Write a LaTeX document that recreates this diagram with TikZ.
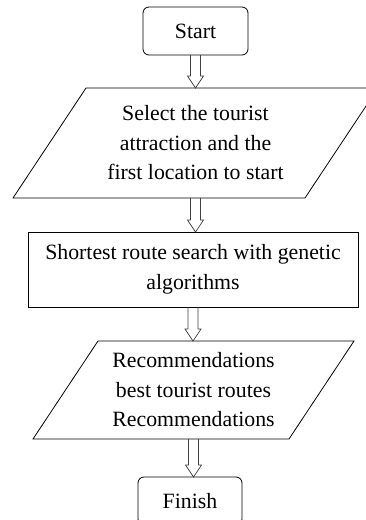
\documentclass[tikz,border=0pt]{standalone}
\usepackage{fontspec}
\setmainfont{Liberation Serif}
\usetikzlibrary{calc}

\begin{document}
\begin{tikzpicture}[x=1pt, y=1pt, line width=0.8pt,
  every node/.style={font=\fontsize{21.8}{29.5}\selectfont, align=center, inner sep=0pt, outer sep=0pt},
  terminal/.style={draw, rounded corners=6pt, minimum width=105pt, minimum height=48pt},
  io/.style={minimum width=292pt, minimum height=110pt},
  process/.style={draw, minimum width=330pt, minimum height=75pt},
  flow/.style={draw=black!75, line width=0.7pt, to path={
    ($(\tikztostart.south)+(-5,0)$) -- ($(\tikztostart.south |- \tikztotarget.north)+(-5,12)$)
    -- ++(-3,0) -- (\tikztostart.south |- \tikztotarget.north) -- ++(8,12) -- ++(-3,0)
    -- ($(\tikztostart.south)+(5,0)$)}}]
\useasboundingbox (0,0) rectangle (365,-520);

\node[terminal] (start) at (195.5, -31) {Start};
\node[io] (select) at (195.5, -143)
  {Select the tourist\\attraction and the\\first location to start};
\node[process] (search) at (193, -269.5) {Shortest route search with genetic\\algorithms};
\node[io, minimum width=256pt, minimum height=98pt] (recommend) at (193.5, -390)
  {Recommendations\\best tourist routes\\Recommendations};
\node[terminal, minimum width=104pt] (finish) at (190, -501) {Finish};

% parallelogram frames
\draw ($(select.south west)+(-36.5,0)$) -- ($(select.south east)+(-36.5,0)$)
  -- ($(select.north east)+(36.5,0)$) -- ($(select.north west)+(36.5,0)$) -- cycle;
\draw ($(recommend.south west)+(-32.5,0)$) -- ($(recommend.south east)+(-32.5,0)$)
  -- ($(recommend.north east)+(32.5,0)$) -- ($(recommend.north west)+(32.5,0)$) -- cycle;

\draw[flow] (start) to (select);
\draw[flow] (select) to (search);
\draw[flow] (search) to (recommend);
\draw[flow] (recommend) to (finish);
\end{tikzpicture}
\end{document}
